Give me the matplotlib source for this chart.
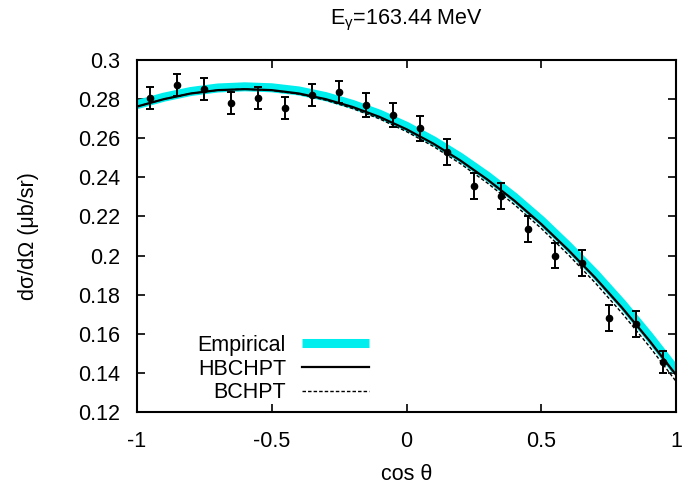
import matplotlib
matplotlib.use("Agg")
import matplotlib.pyplot as plt

# ---------------------------------------------------------------------------
# Data
# ---------------------------------------------------------------------------
cos_data = [-0.95, -0.85, -0.75, -0.65, -0.55, -0.45, -0.35, -0.25, -0.15, -0.05,
            0.05, 0.15, 0.25, 0.35, 0.45, 0.55, 0.65, 0.75, 0.85, 0.95]
xs_data = [0.2806, 0.2872, 0.2852, 0.2780, 0.2806, 0.2755, 0.2821, 0.2836, 0.2770, 0.2719,
           0.2650, 0.2530, 0.2356, 0.2305, 0.2136, 0.2000, 0.1960, 0.1680, 0.1650, 0.1456]
xs_err = [0.0055, 0.0056, 0.0055, 0.0055, 0.0055, 0.0055, 0.0056, 0.0057, 0.0059, 0.0062,
          0.0066, 0.0065, 0.0066, 0.0066, 0.0068, 0.0066, 0.0066, 0.0068, 0.0064, 0.0058]

cos_curve = [-1.0, -0.9, -0.8, -0.7, -0.6, -0.5, -0.4, -0.3, -0.2, -0.1,
             0.0, 0.1, 0.2, 0.3, 0.4, 0.5, 0.6, 0.7, 0.8, 0.9, 1.0]
empirical = [0.2772, 0.2810, 0.2839, 0.2857, 0.2863, 0.2858, 0.2842, 0.2813, 0.2773, 0.2723,
             0.2661, 0.2587, 0.2502, 0.2406, 0.2299, 0.2180, 0.2048, 0.1907, 0.1754, 0.1588, 0.1412]
hbchpt = [0.2762, 0.2800, 0.2829, 0.2846, 0.2851, 0.2846, 0.2829, 0.2800, 0.2760, 0.2709,
          0.2646, 0.2572, 0.2486, 0.2389, 0.2281, 0.2161, 0.2029, 0.1887, 0.1733, 0.1567, 0.1390]
bchpt = [0.2762, 0.2800, 0.2829, 0.2846, 0.2851, 0.2845, 0.2826, 0.2795, 0.2752, 0.2699,
         0.2634, 0.2558, 0.2470, 0.2371, 0.2261, 0.2139, 0.2005, 0.1861, 0.1705, 0.1537, 0.1357]

xticks = [-1, -0.5, 0, 0.5, 1]
xtick_labels = ["-1", "-0.5", "0", "0.5", "1"]
yticks = [0.12, 0.14, 0.16, 0.18, 0.2, 0.22, 0.24, 0.26, 0.28, 0.3]
ytick_labels = ["0.12", "0.14", "0.16", "0.18", "0.2", "0.22", "0.24", "0.26", "0.28", "0.3"]

# ---------------------------------------------------------------------------
# Plot
# ---------------------------------------------------------------------------
plt.rcParams.update({
    "font.family": ["Liberation Sans", "DejaVu Sans"],
    "font.size": 15.5,
    "mathtext.fontset": "custom",
    "mathtext.rm": "Liberation Sans",
    "mathtext.it": "Liberation Sans:italic",
})

fig = plt.figure(figsize=(6.84, 4.86), dpi=100)
ax = fig.add_axes([0.2003, 0.1523, 0.7880, 0.7242])

ax.plot(cos_curve, empirical, color="#00eeee", lw=6.5, solid_capstyle="butt",
        label="Empirical", zorder=2)
ax.plot(cos_curve, hbchpt, color="black", lw=1.6, label="HBCHPT", zorder=3)
ax.plot(cos_curve, bchpt, color="black", lw=1.0, ls=(0, (2.5, 1.5)),
        label="BCHPT", zorder=3)
ax.errorbar(cos_data, xs_data, yerr=xs_err, fmt="o", color="black", ms=4.5,
            elinewidth=1.4, capsize=3, capthick=1.4, zorder=4)

ax.set_xlim(-1, 1)
ax.set_ylim(0.12, 0.3)
ax.set_xticks(xticks)
ax.set_xticklabels(xtick_labels)
ax.set_yticks(yticks)
ax.set_yticklabels(ytick_labels)
ax.tick_params(axis="x", direction="in", top=True, length=6, width=1.2, pad=14)
ax.tick_params(axis="y", direction="in", right=True, length=6, width=1.2, pad=12)
for sp in ax.spines.values():
    sp.set_linewidth(1.5)

ax.set_xlabel("cos θ", labelpad=8)
ax.set_ylabel("dσ/dΩ (μb/sr)", labelpad=28)
ax.set_title(r"E$_\mathregular{γ}$=163.44 MeV", pad=26, fontsize=15.5)

leg = ax.legend(loc="lower right", bbox_to_anchor=(0.43, 0.025), frameon=False,
                markerfirst=False, handlelength=3.1, handletextpad=0.75,
                labelspacing=0.12, borderpad=0, borderaxespad=0)

fig.savefig("out.png", dpi=100)
